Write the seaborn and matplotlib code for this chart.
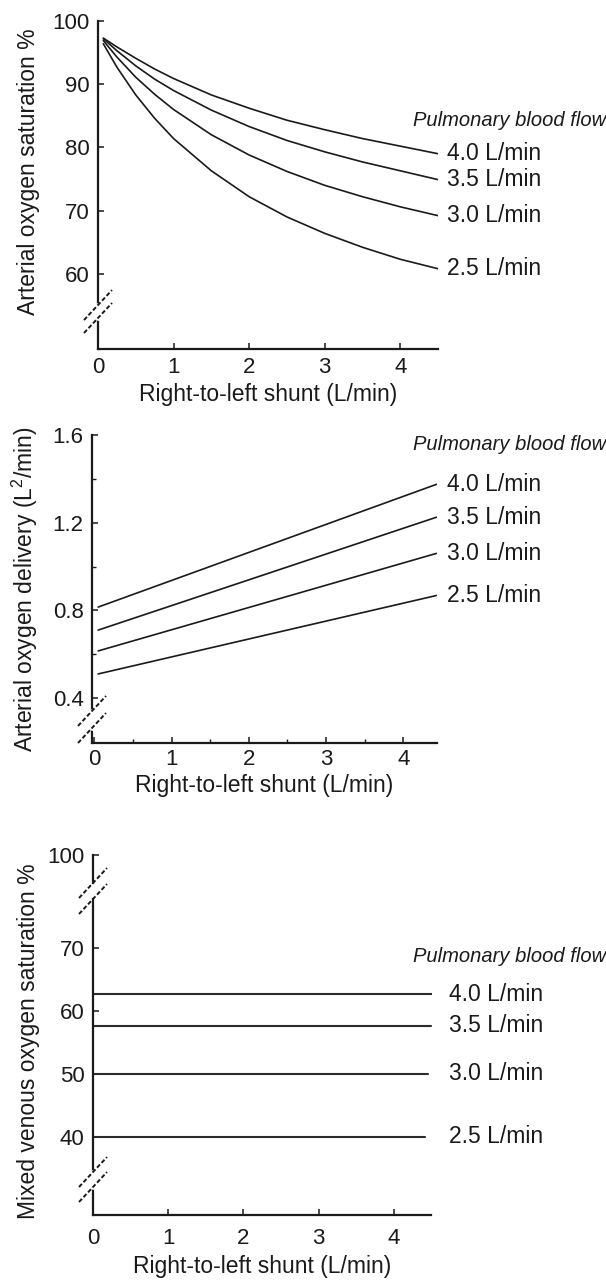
import numpy as np
import pandas as pd
import matplotlib
matplotlib.use("Agg")
import matplotlib.pyplot as plt
import seaborn as sns

# shunt flow values (L/min) and curves
flow_labels = ["4.0 L/min", "3.5 L/min", "3.0 L/min", "2.5 L/min"]

shunt_sat = [0.07, 0.25, 0.5, 0.75, 1.0, 1.5, 2.0, 2.5, 3.0, 3.5, 4.0, 4.5]
sat_40 = [97.3, 95.9, 94.1, 92.4, 90.9, 88.3, 86.2, 84.3, 82.8, 81.4, 80.2, 79.0]
sat_35 = [97.2, 95.3, 92.9, 90.8, 89.0, 85.9, 83.3, 81.1, 79.3, 77.7, 76.3, 74.9]
sat_30 = [96.9, 94.3, 91.1, 88.4, 86.0, 82.0, 78.8, 76.2, 74.0, 72.2, 70.6, 69.2]
sat_25 = [96.4, 92.7, 88.3, 84.6, 81.4, 76.3, 72.2, 69.0, 66.4, 64.2, 62.3, 60.8]

shunt_do2 = [0.05, 4.43]
do2_40 = [0.815, 1.375]
do2_35 = [0.710, 1.225]
do2_30 = [0.615, 1.060]
do2_25 = [0.510, 0.868]

svo2 = [62.7, 57.7, 50.0, 40.0]
svo2_end = [4.52, 4.50, 4.46, 4.42]

sns.set_theme(style="ticks")
plt.rcParams["font.family"] = ["Liberation Sans", "DejaVu Sans"]
plt.rcParams["mathtext.default"] = "regular"

INK = "#1a1a1a"
TICK_FS = 16
LAB_FS = 16.5
FLOW_FS = 16.5

fig = plt.figure(figsize=(6.06, 12.84), dpi=100)
FW, FH = 606, 1284


def style_axes(ax):
    sns.despine(ax=ax)
    for s in ["left", "bottom"]:
        ax.spines[s].set_linewidth(1.6)
        ax.spines[s].set_color(INK)
    ax.tick_params(direction="in", length=4, width=1.1, colors=INK,
                   labelsize=TICK_FS, pad=6)
    ax.tick_params(which="minor", direction="in", length=3, width=1.0, colors=INK)
    ax.set_facecolor("white")


def add_break(ax, y_hi, y_lo):
    # two dashed slashes across the y spine and a gap between them
    pos = ax.get_position()
    dx = 14 / (pos.width * FW)
    dy = 15 / (pos.height * FH)
    ax.plot([0, 0], [y_lo, y_hi], color="white", lw=3.5, transform=ax.transAxes,
            clip_on=False, zorder=5)
    for yc in (y_hi, y_lo):
        ax.plot([-dx, dx], [yc - dy, yc + dy], color=INK, lw=1.4,
                linestyle=(0, (2.2, 1.2)), transform=ax.transAxes,
                clip_on=False, zorder=6)


def flow_text(ax, x, ys, px_title):
    ax.text(px_title[0], px_title[1], "Pulmonary blood flow", fontsize=14.5,
            style="italic", ha="left", va="center", color=INK, clip_on=False)
    for lab, y in zip(flow_labels, ys):
        ax.text(x, y, lab, fontsize=FLOW_FS, ha="left", va="center",
                color=INK, clip_on=False)


# ---------- panel 1: arterial saturation ----------
ax1 = fig.add_axes([98 / FW, (FH - 349) / FH, 340 / FW, 328 / FH])
for ys in (sat_40, sat_35, sat_30, sat_25):
    sns.lineplot(x=shunt_sat, y=ys, ax=ax1, color=INK, lw=1.2, sort=True)
ax1.set_xlim(0, 4.5)
ax1.set_ylim(48.1, 100)
ax1.set_xticks([0, 1, 2, 3, 4])
ax1.set_yticks([60, 70, 80, 90, 100])
style_axes(ax1)
ax1.set_xlabel("Right-to-left shunt (L/min)", fontsize=LAB_FS, color=INK, labelpad=3)
ax1.set_ylabel("Arterial oxygen saturation %", fontsize=LAB_FS, color=INK)
ax1.yaxis.set_label_coords(-0.17, 0.54)
flow_text(ax1, 4.62, [s[-1] for s in (sat_40, sat_35, sat_30, sat_25)], (4.17, 84.3))
add_break(ax1, 0.134, 0.0945)

# ---------- panel 2: arterial oxygen delivery ----------
ax2 = fig.add_axes([92 / FW, (FH - 743) / FH, 344.5 / FW, 308 / FH])
for ys in (do2_40, do2_35, do2_30, do2_25):
    sns.lineplot(x=shunt_do2, y=ys, ax=ax2, color=INK, lw=1.2)
ax2.set_xlim(-0.03, 4.43)
ax2.set_ylim(0.195, 1.6)
ax2.set_xticks([0, 1, 2, 3, 4])
ax2.set_xticks([0.5, 1.5, 2.5, 3.5], minor=True)
ax2.set_yticks([0.4, 0.8, 1.2, 1.6])
ax2.set_yticks([0.6, 1.0, 1.4], minor=True)
ax2.set_yticklabels(["0.4", "0.8", "1.2", "1.6"])
style_axes(ax2)
ax2.tick_params(axis="x", pad=4)
ax2.set_xlabel("Right-to-left shunt (L/min)", fontsize=LAB_FS, color=INK, labelpad=3)
ax2.set_ylabel("Arterial oxygen delivery (L$^2$/min)", fontsize=LAB_FS, color=INK)
ax2.yaxis.set_label_coords(-0.151, 0.5)
flow_text(ax2, 4.56, [s[-1] for s in (do2_40, do2_35, do2_30, do2_25)], (4.13, 1.555))
add_break(ax2, 0.104, 0.0487)

# ---------- panel 3: mixed venous saturation (broken axis) ----------
ax3 = fig.add_axes([93 / FW, (FH - 1215) / FH, 338.5 / FW, 316 / FH])
ax3t = fig.add_axes([93 / FW, (FH - 883) / FH, 338.5 / FW, 28 / FH])
for sv, xe in zip(svo2, svo2_end):
    sns.lineplot(x=[0, xe], y=[sv, sv], ax=ax3, color="#2b2b2b", lw=1.5)
ax3.set_xlim(0, 4.5)
ax3.set_ylim(27.6, 77.8)
ax3.set_xticks([0, 1, 2, 3, 4])
ax3.set_yticks([40, 50, 60, 70])
style_axes(ax3)
ax3.tick_params(axis="x", pad=9)
ax3.set_xlabel("Right-to-left shunt (L/min)", fontsize=LAB_FS, color=INK, labelpad=5)
ax3.set_ylabel("Mixed venous oxygen saturation %", fontsize=LAB_FS, color=INK)
ax3.yaxis.set_label_coords(-0.157, 0.55)
flow_text(ax3, 4.73, svo2, (4.25, 68.7))
add_break(ax3, 0.136, 0.0886)

ax3t.set_xlim(0, 4.5)
ax3t.set_ylim(95.56, 100)
ax3t.set_yticks([100])
ax3t.set_xticks([])
style_axes(ax3t)
ax3t.spines["bottom"].set_visible(False)
ax3t.patch.set_alpha(0)

# slashes across the gap between the two segments
pos = ax3.get_position()
dx = 14 / (pos.width * FW)
for a, yc in ((ax3t, 0.0), (ax3, 1.0)):
    dy = 15 / (a.get_position().height * FH)
    a.plot([-dx, dx], [yc - dy, yc + dy], color=INK, lw=1.4,
           linestyle=(0, (2.2, 1.2)), transform=a.transAxes, clip_on=False, zorder=6)

fig.savefig("out.png", dpi=100, facecolor="white")
